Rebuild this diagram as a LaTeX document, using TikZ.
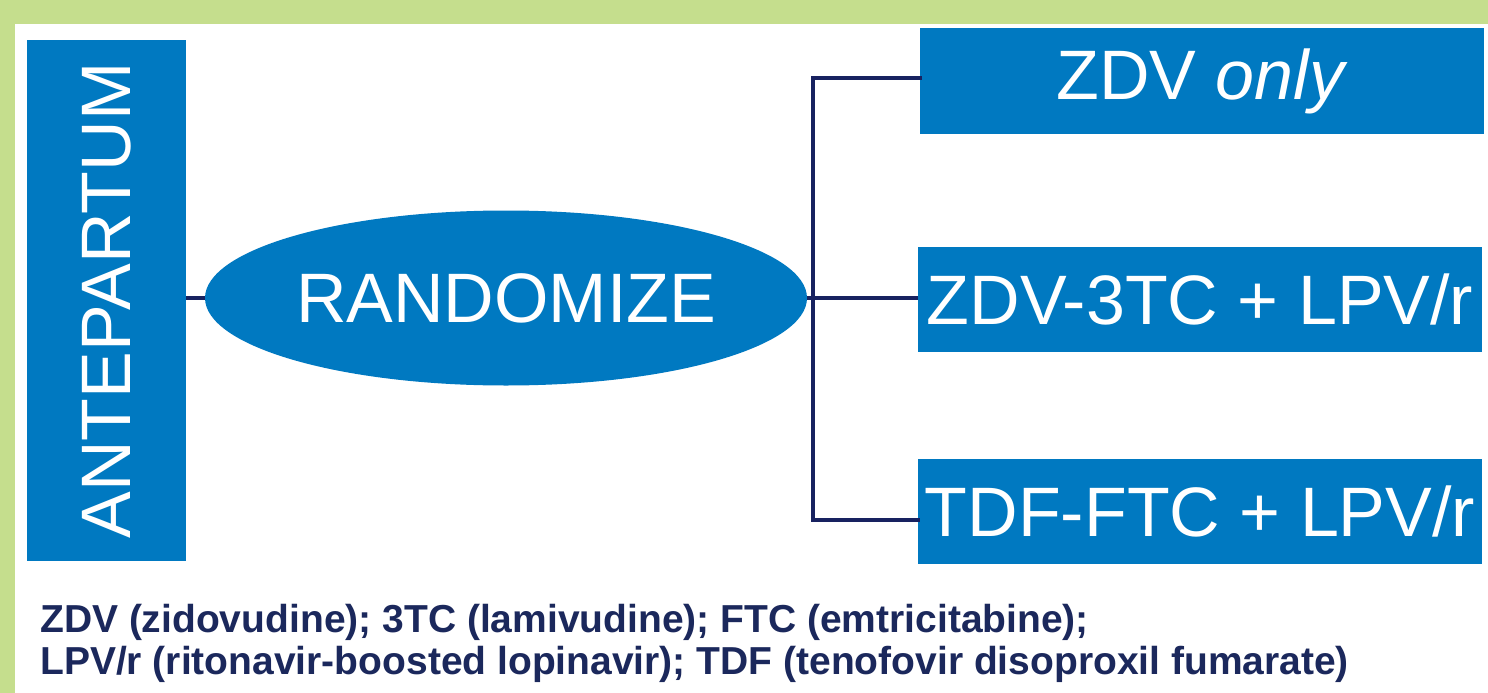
\documentclass[tikz,border=0pt]{standalone}
\usepackage{fontspec}
\setmainfont{Liberation Sans}
\newfontfamily\notefont{Liberation Sans}
\usetikzlibrary{shapes.geometric}
\definecolor{armblue}{RGB}{0,121,193}
\definecolor{framegreen}{RGB}{197,222,141}
\definecolor{linknavy}{RGB}{24,34,96}
\definecolor{notenavy}{RGB}{27,40,92}
\tikzset{
  bluebox/.style={fill=armblue, draw=none, text=white, inner sep=0pt,
    font=\fontsize{70}{82}\selectfont},
  armbox/.style={bluebox, minimum width=564pt, minimum height=105pt},
  link/.style={draw=linknavy, line width=3.6pt},
}
\begin{document}
\begin{tikzpicture}[x=1pt, y=-1pt]
  \useasboundingbox (0,0) rectangle (1488,693);
  % frame
  \fill[white] (0,0) rectangle (1488,693);
  \fill[framegreen] (0,0) rectangle (1488,24);
  \fill[framegreen] (0,0) rectangle (15,693);

  % phase label
  \node[bluebox, minimum width=159pt, minimum height=521pt] (ante) at (106.5,300.5)
    {\rotatebox{90}{ANTEPARTUM}};

  % randomisation
  \node[bluebox, ellipse, minimum width=602pt, minimum height=175pt] (rand) at (506,298)
    {RANDOMIZE};

  % treatment arms
  \node[armbox] (arm1) at (1202,81) {ZDV \textit{only}};
  \node[armbox] (arm2) at (1200,299.5) {ZDV-3TC + LPV/r};
  \node[armbox] (arm3) at (1200,511) {TDF-FTC + LPV/r};

  % connectors
  \coordinate (fork) at (813,298);
  \draw[link] (ante.east |- rand.west) -- (rand.west);
  \draw[link] (rand.east) -- (arm2.west |- rand.east);
  \draw[link, line cap=rect] ([yshift=3pt]arm1.west) -| (fork) |- ([yshift=-9pt]arm3.west);

  % abbreviations
  \node[anchor=north west, align=left, inner sep=0pt, text=notenavy,
        font=\notefont\bfseries\fontsize{39}{42}\selectfont] (note) at (40,604)
    {ZDV (zidovudine); 3TC (lamivudine); FTC (emtricitabine);\\
     LPV/r (ritonavir-boosted lopinavir); TDF (tenofovir disoproxil fumarate)};
\end{tikzpicture}
\end{document}
